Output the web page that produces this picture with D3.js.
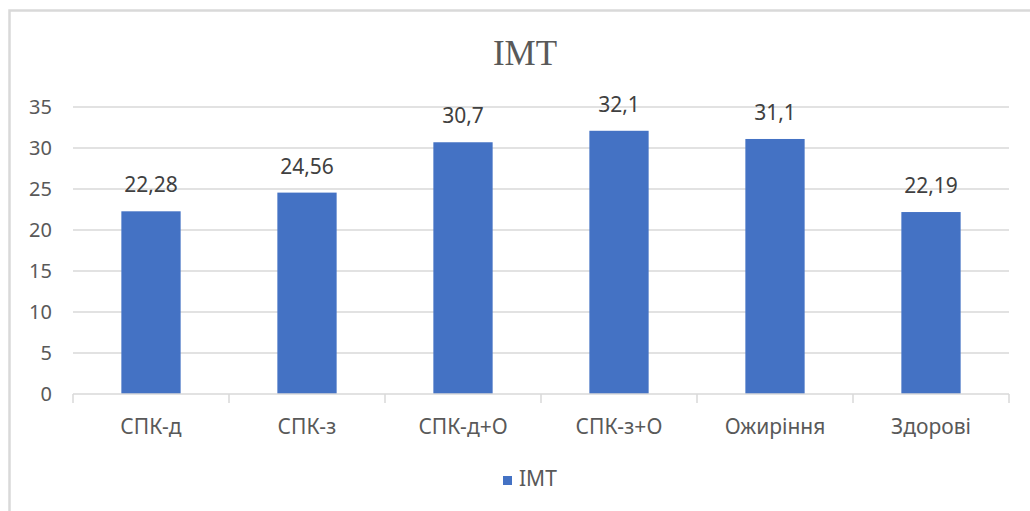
<!DOCTYPE html>
<html lang="uk">
<head>
  <meta charset="UTF-8" />
  <title>IMT</title>
  <script src="https://d3js.org/d3.v7.min.js"></script>
  <style>
    body {
      margin: 0;
      background: #ffffff;
      font-family: 'Noto Sans', 'Open Sans', sans-serif;
    }
    svg { display: block; }
  </style>
</head>
<body>
  <svg width="1030" height="511"></svg>
  <script>
    const categories = ["СПК-д", "СПК-з", "СПК-д+О", "СПК-з+О", "Ожиріння", "Здорові"];
    const values = [22.28, 24.56, 30.7, 32.1, 31.1, 22.19];
    const labels = ["22,28", "24,56", "30,7", "32,1", "31,1", "22,19"];
    const yTicks = [0, 5, 10, 15, 20, 25, 30, 35];
    const seriesName = "IMT";

    const svg = d3.select("svg");
    const margin = { top: 107, left: 73, right: 21, bottom: 117 };
    const width = 1030 - margin.left - margin.right,
          height = 511 - margin.top - margin.bottom;

    // chart frame (only left and top edges fall inside the picture)
    svg.append("path")
      .attr("d", "M9.5,511 V10.5 H1030")
      .attr("fill", "none")
      .attr("stroke", "#d9d9d9")
      .attr("stroke-width", 2.5);

    const g = svg.append("g").attr("transform", `translate(${margin.left},${margin.top})`);

    const x = d3.scaleBand()
      .domain(categories)
      .range([0, width])
      .paddingInner(0.62)
      .paddingOuter(0.31);

    const y = d3.scaleLinear().domain([0, 35]).range([height, 0]);

    // gridlines
    g.selectAll(".grid")
      .data(yTicks.filter(d => d > 0))
      .enter().append("line")
      .attr("x1", 0).attr("x2", width)
      .attr("y1", d => y(d)).attr("y2", d => y(d))
      .attr("stroke", "#d9d9d9")
      .attr("stroke-width", 1.5);

    // y axis labels
    const yAxis = g.append("g")
      .call(d3.axisLeft(y).tickValues(yTicks).tickSize(0).tickPadding(21));
    yAxis.select(".domain").remove();
    yAxis.selectAll("text")
      .attr("fill", "#595959")
      .style("font-size", "20px")
      .style("font-family", "'Noto Sans', sans-serif");

    // bars
    g.selectAll(".bar")
      .data(values)
      .enter().append("rect")
      .attr("x", (d, i) => x(categories[i]))
      .attr("y", d => y(d))
      .attr("width", x.bandwidth())
      .attr("height", d => height - y(d))
      .attr("fill", "#4472c4");

    // data labels
    g.selectAll(".lbl")
      .data(values)
      .enter().append("text")
      .attr("x", (d, i) => x(categories[i]) + x.bandwidth() / 2)
      .attr("y", d => y(d) - 19)
      .attr("text-anchor", "middle")
      .attr("fill", "#404040")
      .style("font-size", "21px")
      .text((d, i) => labels[i]);

    // x axis
    const step = x.step();
    const xAxis = g.append("g").attr("transform", `translate(0,${height})`);
    xAxis.append("line")
      .attr("x1", 0).attr("x2", width)
      .attr("stroke", "#d9d9d9").attr("stroke-width", 1.5);
    xAxis.selectAll(".tick")
      .data(d3.range(categories.length + 1))
      .enter().append("line")
      .attr("x1", d => d * step).attr("x2", d => d * step)
      .attr("y1", 0).attr("y2", 9)
      .attr("stroke", "#d9d9d9").attr("stroke-width", 1.5);
    xAxis.selectAll(".cat")
      .data(categories)
      .enter().append("text")
      .attr("x", d => x(d) + x.bandwidth() / 2)
      .attr("y", 40)
      .attr("text-anchor", "middle")
      .attr("fill", "#595959")
      .style("font-size", "21px")
      .text(d => d);

    // title
    svg.append("text")
      .attr("x", 525).attr("y", 65)
      .attr("text-anchor", "middle")
      .attr("fill", "#595959")
      .style("font-family", "'Liberation Serif', 'DejaVu Serif', serif")
      .style("font-size", "35px")
      .text(seriesName);

    // legend
    const legend = svg.append("g").attr("transform", "translate(503,476)");
    legend.append("rect")
      .attr("width", 9).attr("height", 9)
      .attr("fill", "#4472c4");
    legend.append("text")
      .attr("x", 16).attr("y", 10)
      .attr("fill", "#595959")
      .style("font-size", "21px")
      .text(seriesName);
  </script>
</body>
</html>
